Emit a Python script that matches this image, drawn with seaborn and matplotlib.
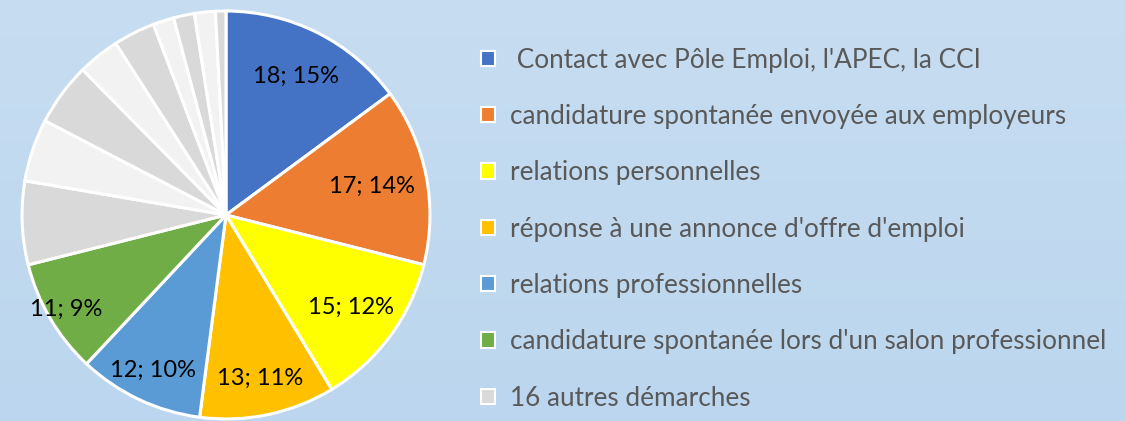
import matplotlib
matplotlib.use("Agg")
import matplotlib.pyplot as plt
import matplotlib.patches as mpatches
import seaborn as sns
import numpy as np

# Data
main_labels = [
    " Contact avec Pôle Emploi, l'APEC, la CCI",
    "candidature spontanée envoyée aux employeurs",
    "relations personnelles",
    "réponse à une annonce d'offre d'emploi",
    "relations professionnelles",
    "candidature spontanée lors d'un salon professionnel",
]
main_values = [18, 17, 15, 13, 12, 11]
other_label = "16 autres démarches"
other_values = [8, 6, 6, 4, 4, 2, 2, 2, 1]

main_colors = ["#4472C4", "#ED7D31", "#FFFF00", "#FFC000", "#5B9BD5", "#70AD47"]
grey_colors = ["#D9D9D9", "#F2F2F2"]

sns.set_style("white")
plt.rcParams["font.family"] = ["Lato", "DejaVu Sans"]

values = main_values + other_values
colors = main_colors + [grey_colors[i % 2] for i in range(len(other_values))]
total = sum(values)

fig = plt.figure(figsize=(11.25, 4.21), dpi=100)

# soft blue background
bg = fig.add_axes([0, 0, 1, 1], zorder=-10)
grad = np.linspace(0, 1, 256).reshape(-1, 1)
bg.imshow(grad, aspect="auto", cmap=matplotlib.colors.LinearSegmentedColormap.from_list(
    "bg", ["#C7DDF1", "#BBD6EE"]), extent=[0, 1, 0, 1])
bg.axis("off")

ax = fig.add_axes([20 / 1125, 0.0, 412 / 1125, 412 / 421])
wedges, _ = ax.pie(values, colors=colors, startangle=90, counterclock=False,
                   wedgeprops=dict(edgecolor="white", linewidth=2.2))
ax.set_xlim(-1.01, 1.01)
ax.set_ylim(-1.01, 1.01)
ax.set_aspect("equal")
ax.axis("off")

# data labels for the six named slices
label_r = [0.76, 0.73, 0.76, 0.82, 0.84, 0.91]
for w, v, r in zip(wedges[:6], main_values, label_r):
    ang = np.deg2rad((w.theta1 + w.theta2) / 2)
    ax.text(r * np.cos(ang), r * np.sin(ang), f"{v}; {round(100 * v / total)}%",
            ha="center", va="center", fontsize=17, color="black")

handles = [mpatches.Patch(facecolor=c, edgecolor="white", linewidth=1.5)
           for c in main_colors + [grey_colors[0]]]
leg = fig.legend(handles, main_labels + [other_label], loc="upper left",
                 bbox_to_anchor=(0.4276, 0.887), frameon=False, fontsize=18.8,
                 labelcolor="#595959", handlelength=0.52, handleheight=0.52,
                 handletextpad=0.58, labelspacing=1.2, borderaxespad=0,
                 borderpad=0)

fig.savefig("out.png", dpi=100)
